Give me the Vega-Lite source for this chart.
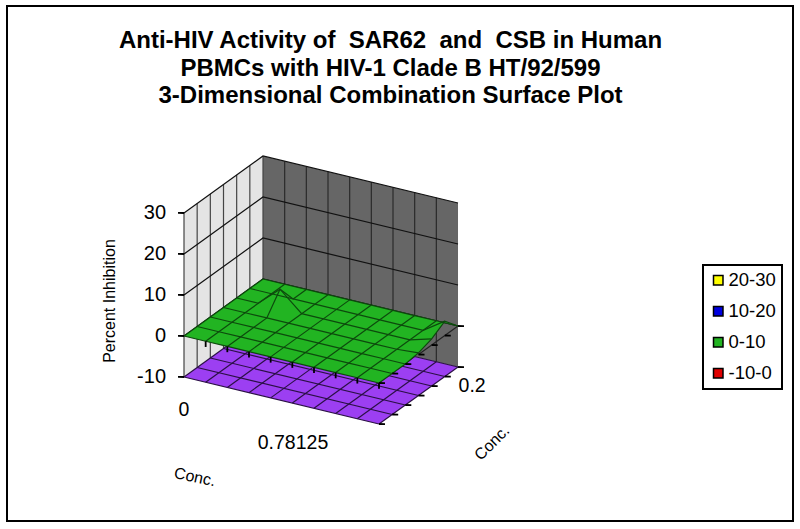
{"$schema":"https://vega.github.io/schema/vega-lite/v6.json","width":786,"height":515,"padding":{"left":7,"top":6,"right":7,"bottom":8},"autosize":"none","background":"white","view":{"stroke":"black","strokeWidth":2,"fill":"white"},"title":{"text":["Anti-HIV Activity of \u00a0SAR62 \u00a0and \u00a0CSB in Human","PBMCs with HIV-1 Clade B HT/92/599","3-Dimensional Combination Surface Plot"],"font":"Liberation Sans","fontSize":24,"fontWeight":"bold","color":"black","lineHeight":27.5,"anchor":"middle","dx":-9.5,"dy":102,"offset":0},"config":{"legend":{"strokeWidth":2}},
"data":{"values":[
{"kind":"wall","part":"left","seq":0,"i":0,"j":0,"z":-10},{"kind":"wall","part":"left","seq":1,"i":0,"j":0,"z":30},{"kind":"wall","part":"left","seq":2,"i":0,"j":6,"z":30},{"kind":"wall","part":"left","seq":3,"i":0,"j":6,"z":-10},
{"kind":"wall","part":"back","seq":0,"i":0,"j":6,"z":-10},{"kind":"wall","part":"back","seq":1,"i":0,"j":6,"z":30},{"kind":"wall","part":"back","seq":2,"i":9,"j":6,"z":30},{"kind":"wall","part":"back","seq":3,"i":9,"j":6,"z":-10},
{"kind":"wall","part":"floor","seq":0,"i":0,"j":0,"z":-10},{"kind":"wall","part":"floor","seq":1,"i":9,"j":0,"z":-10},{"kind":"wall","part":"floor","seq":2,"i":9,"j":6,"z":-10},{"kind":"wall","part":"floor","seq":3,"i":0,"j":6,"z":-10},

{"kind":"leftgrid","part":"a0","seq":0,"i":0,"j":0,"z":-10},{"kind":"leftgrid","part":"a0","seq":1,"i":0,"j":0,"z":30},
{"kind":"leftgrid","part":"a1","seq":0,"i":0,"j":1,"z":-10},{"kind":"leftgrid","part":"a1","seq":1,"i":0,"j":1,"z":30},
{"kind":"leftgrid","part":"a2","seq":0,"i":0,"j":2,"z":-10},{"kind":"leftgrid","part":"a2","seq":1,"i":0,"j":2,"z":30},
{"kind":"leftgrid","part":"a3","seq":0,"i":0,"j":3,"z":-10},{"kind":"leftgrid","part":"a3","seq":1,"i":0,"j":3,"z":30},
{"kind":"leftgrid","part":"a4","seq":0,"i":0,"j":4,"z":-10},{"kind":"leftgrid","part":"a4","seq":1,"i":0,"j":4,"z":30},
{"kind":"leftgrid","part":"a5","seq":0,"i":0,"j":5,"z":-10},{"kind":"leftgrid","part":"a5","seq":1,"i":0,"j":5,"z":30},
{"kind":"leftgrid","part":"a6","seq":0,"i":0,"j":6,"z":-10},{"kind":"leftgrid","part":"a6","seq":1,"i":0,"j":6,"z":30},

{"kind":"backgrid","part":"b1","seq":0,"i":1,"j":6,"z":-10},{"kind":"backgrid","part":"b1","seq":1,"i":1,"j":6,"z":30},
{"kind":"backgrid","part":"b2","seq":0,"i":2,"j":6,"z":-10},{"kind":"backgrid","part":"b2","seq":1,"i":2,"j":6,"z":30},
{"kind":"backgrid","part":"b3","seq":0,"i":3,"j":6,"z":-10},{"kind":"backgrid","part":"b3","seq":1,"i":3,"j":6,"z":30},
{"kind":"backgrid","part":"b4","seq":0,"i":4,"j":6,"z":-10},{"kind":"backgrid","part":"b4","seq":1,"i":4,"j":6,"z":30},
{"kind":"backgrid","part":"b5","seq":0,"i":5,"j":6,"z":-10},{"kind":"backgrid","part":"b5","seq":1,"i":5,"j":6,"z":30},
{"kind":"backgrid","part":"b6","seq":0,"i":6,"j":6,"z":-10},{"kind":"backgrid","part":"b6","seq":1,"i":6,"j":6,"z":30},
{"kind":"backgrid","part":"b7","seq":0,"i":7,"j":6,"z":-10},{"kind":"backgrid","part":"b7","seq":1,"i":7,"j":6,"z":30},
{"kind":"backgrid","part":"b8","seq":0,"i":8,"j":6,"z":-10},{"kind":"backgrid","part":"b8","seq":1,"i":8,"j":6,"z":30},

{"kind":"ink","part":"h0l","seq":0,"i":0,"j":0,"z":0},{"kind":"ink","part":"h0l","seq":1,"i":0,"j":6,"z":0},{"kind":"ink","part":"h0l","seq":2,"i":9,"j":6,"z":0},
{"kind":"ink","part":"h10","seq":0,"i":0,"j":0,"z":10},{"kind":"ink","part":"h10","seq":1,"i":0,"j":6,"z":10},{"kind":"ink","part":"h10","seq":2,"i":9,"j":6,"z":10},
{"kind":"ink","part":"h20","seq":0,"i":0,"j":0,"z":20},{"kind":"ink","part":"h20","seq":1,"i":0,"j":6,"z":20},{"kind":"ink","part":"h20","seq":2,"i":9,"j":6,"z":20},
{"kind":"ink","part":"h30","seq":0,"i":0,"j":0,"z":30},{"kind":"ink","part":"h30","seq":1,"i":0,"j":6,"z":30},{"kind":"ink","part":"h30","seq":2,"i":9,"j":6,"z":30},

{"kind":"floorgrid","part":"f0","seq":0,"i":0,"j":0,"z":-10},{"kind":"floorgrid","part":"f0","seq":1,"i":0,"j":6,"z":-10},
{"kind":"floorgrid","part":"f1","seq":0,"i":1,"j":0,"z":-10},{"kind":"floorgrid","part":"f1","seq":1,"i":1,"j":6,"z":-10},
{"kind":"floorgrid","part":"f2","seq":0,"i":2,"j":0,"z":-10},{"kind":"floorgrid","part":"f2","seq":1,"i":2,"j":6,"z":-10},
{"kind":"floorgrid","part":"f3","seq":0,"i":3,"j":0,"z":-10},{"kind":"floorgrid","part":"f3","seq":1,"i":3,"j":6,"z":-10},
{"kind":"floorgrid","part":"f4","seq":0,"i":4,"j":0,"z":-10},{"kind":"floorgrid","part":"f4","seq":1,"i":4,"j":6,"z":-10},
{"kind":"floorgrid","part":"f5","seq":0,"i":5,"j":0,"z":-10},{"kind":"floorgrid","part":"f5","seq":1,"i":5,"j":6,"z":-10},
{"kind":"floorgrid","part":"f6","seq":0,"i":6,"j":0,"z":-10},{"kind":"floorgrid","part":"f6","seq":1,"i":6,"j":6,"z":-10},
{"kind":"floorgrid","part":"f7","seq":0,"i":7,"j":0,"z":-10},{"kind":"floorgrid","part":"f7","seq":1,"i":7,"j":6,"z":-10},
{"kind":"floorgrid","part":"f8","seq":0,"i":8,"j":0,"z":-10},{"kind":"floorgrid","part":"f8","seq":1,"i":8,"j":6,"z":-10},
{"kind":"floorgrid","part":"f9","seq":0,"i":9,"j":0,"z":-10},{"kind":"floorgrid","part":"f9","seq":1,"i":9,"j":6,"z":-10},
{"kind":"floorgrid","part":"g0","seq":0,"i":0,"j":0,"z":-10},{"kind":"floorgrid","part":"g0","seq":1,"i":9,"j":0,"z":-10},
{"kind":"floorgrid","part":"g1","seq":0,"i":0,"j":1,"z":-10},{"kind":"floorgrid","part":"g1","seq":1,"i":9,"j":1,"z":-10},
{"kind":"floorgrid","part":"g2","seq":0,"i":0,"j":2,"z":-10},{"kind":"floorgrid","part":"g2","seq":1,"i":9,"j":2,"z":-10},
{"kind":"floorgrid","part":"g3","seq":0,"i":0,"j":3,"z":-10},{"kind":"floorgrid","part":"g3","seq":1,"i":9,"j":3,"z":-10},
{"kind":"floorgrid","part":"g4","seq":0,"i":0,"j":4,"z":-10},{"kind":"floorgrid","part":"g4","seq":1,"i":9,"j":4,"z":-10},
{"kind":"floorgrid","part":"g5","seq":0,"i":0,"j":5,"z":-10},{"kind":"floorgrid","part":"g5","seq":1,"i":9,"j":5,"z":-10},
{"kind":"floorgrid","part":"g6","seq":0,"i":0,"j":6,"z":-10},{"kind":"floorgrid","part":"g6","seq":1,"i":9,"j":6,"z":-10},

{"kind":"surface","band":"0-10","outline":0,"i":0,"j":0,"z":0},{"kind":"surface","band":"0-10","outline":1,"i":1,"j":0,"z":0},{"kind":"surface","band":"0-10","outline":2,"i":2,"j":0,"z":0},{"kind":"surface","band":"0-10","outline":3,"i":3,"j":0,"z":0},{"kind":"surface","band":"0-10","outline":4,"i":4,"j":0,"z":0},{"kind":"surface","band":"0-10","outline":5,"i":5,"j":0,"z":0},{"kind":"surface","band":"0-10","outline":6,"i":6,"j":0,"z":0},{"kind":"surface","band":"0-10","outline":7,"i":7,"j":0,"z":0},{"kind":"surface","band":"0-10","outline":8,"i":8,"j":0,"z":0},{"kind":"surface","band":"0-10","outline":9,"i":9,"j":0,"z":0},
{"kind":"surface","band":"0-10","outline":29,"i":0,"j":1,"z":0},{"kind":"surface","band":"0-10","i":1,"j":1,"z":0},{"kind":"surface","band":"0-10","i":2,"j":1,"z":0},{"kind":"surface","band":"0-10","i":3,"j":1,"z":0},{"kind":"surface","band":"0-10","i":4,"j":1,"z":0},{"kind":"surface","band":"0-10","i":5,"j":1,"z":0},{"kind":"surface","band":"0-10","i":6,"j":1,"z":0},{"kind":"surface","band":"0-10","i":7,"j":1,"z":0},{"kind":"surface","band":"0-10","i":8,"j":1,"z":0},{"kind":"surface","band":"0-10","outline":10,"i":9,"j":1,"z":0},
{"kind":"surface","band":"0-10","outline":28,"i":0,"j":2,"z":0},{"kind":"surface","band":"0-10","i":1,"j":2,"z":0},{"kind":"surface","band":"0-10","i":2,"j":2,"z":0},{"kind":"surface","band":"0-10","i":3,"j":2,"z":0},{"kind":"surface","band":"0-10","i":4,"j":2,"z":0},{"kind":"surface","band":"0-10","i":5,"j":2,"z":0},{"kind":"surface","band":"0-10","i":6,"j":2,"z":0},{"kind":"surface","band":"0-10","i":7,"j":2,"z":0},{"kind":"surface","band":"0-10","i":8,"j":2,"z":0},{"kind":"surface","band":"0-10","outline":11,"i":9,"j":2,"z":0},
{"kind":"surface","band":"0-10","outline":27,"i":0,"j":3,"z":0},{"kind":"surface","band":"0-10","i":1,"j":3,"z":0},{"kind":"surface","band":"0-10","i":2,"j":3,"z":0},{"kind":"surface","band":"0-10","i":3,"j":3,"z":0},{"kind":"surface","band":"0-10","i":4,"j":3,"z":0},{"kind":"surface","band":"0-10","i":5,"j":3,"z":0},{"kind":"surface","band":"0-10","i":6,"j":3,"z":0},{"kind":"surface","band":"0-10","i":7,"j":3,"z":0},{"kind":"surface","band":"0-10","i":8,"j":3,"z":0},{"kind":"surface","band":"0-10","outline":12,"i":9,"j":3,"z":0.4},
{"kind":"surface","band":"0-10","outline":26,"i":0,"j":4,"z":0},{"kind":"surface","band":"0-10","i":1,"j":4,"z":0},{"kind":"surface","band":"0-10","i":2,"j":4,"z":4.7},{"kind":"surface","band":"0-10","i":3,"j":4,"z":0},{"kind":"surface","band":"0-10","i":4,"j":4,"z":0},{"kind":"surface","band":"0-10","i":5,"j":4,"z":0},{"kind":"surface","band":"0-10","i":6,"j":4,"z":0},{"kind":"surface","band":"0-10","i":7,"j":4,"z":0},{"kind":"surface","band":"0-10","i":8,"j":4,"z":0},{"kind":"surface","band":"0-10","outline":13,"i":9,"j":4,"z":1.5},
{"kind":"surface","band":"0-10","outline":25,"i":0,"j":5,"z":0},{"kind":"surface","band":"0-10","i":1,"j":5,"z":0},{"kind":"surface","band":"0-10","i":2,"j":5,"z":0},{"kind":"surface","band":"0-10","i":3,"j":5,"z":0},{"kind":"surface","band":"0-10","i":4,"j":5,"z":0},{"kind":"surface","band":"0-10","i":5,"j":5,"z":0},{"kind":"surface","band":"0-10","i":6,"j":5,"z":0},{"kind":"surface","band":"0-10","i":7,"j":5,"z":0},{"kind":"surface","band":"0-10","i":8,"j":5,"z":0},{"kind":"surface","band":"0-10","outline":14,"i":9,"j":5,"z":3.5},
{"kind":"surface","band":"0-10","outline":24,"i":0,"j":6,"z":0},{"kind":"surface","band":"0-10","outline":23,"i":1,"j":6,"z":0},{"kind":"surface","band":"0-10","outline":22,"i":2,"j":6,"z":0},{"kind":"surface","band":"0-10","outline":21,"i":3,"j":6,"z":0},{"kind":"surface","band":"0-10","outline":20,"i":4,"j":6,"z":0},{"kind":"surface","band":"0-10","outline":19,"i":5,"j":6,"z":0},{"kind":"surface","band":"0-10","outline":18,"i":6,"j":6,"z":0},{"kind":"surface","band":"0-10","outline":17,"i":7,"j":6,"z":0},{"kind":"surface","band":"0-10","outline":16,"i":8,"j":6,"z":0},{"kind":"surface","band":"0-10","outline":15,"i":9,"j":6,"z":0},

{"kind":"tick","part":"e","seq":0,"i":9,"j":3,"z":0},{"kind":"tick","part":"e","seq":1,"i":9,"j":6,"z":0},
{"kind":"tick","part":"l1","seq":0,"i":0,"j":0,"z":-10},{"kind":"tick","part":"l1","seq":1,"i":-0.21,"j":-0.11,"z":-10},
{"kind":"tick","part":"l2","seq":0,"i":0,"j":0,"z":0},{"kind":"tick","part":"l2","seq":1,"i":-0.21,"j":-0.11,"z":0},
{"kind":"tick","part":"l3","seq":0,"i":0,"j":0,"z":10},{"kind":"tick","part":"l3","seq":1,"i":-0.21,"j":-0.11,"z":10},
{"kind":"tick","part":"l4","seq":0,"i":0,"j":0,"z":20},{"kind":"tick","part":"l4","seq":1,"i":-0.21,"j":-0.11,"z":20},
{"kind":"tick","part":"l5","seq":0,"i":0,"j":0,"z":30},{"kind":"tick","part":"l5","seq":1,"i":-0.21,"j":-0.11,"z":30},
{"kind":"tick","part":"c1","seq":0,"i":1,"j":0,"z":0},{"kind":"tick","part":"c1","seq":1,"i":1,"j":0,"z":-1.4},
{"kind":"tick","part":"c2","seq":0,"i":2,"j":0,"z":0},{"kind":"tick","part":"c2","seq":1,"i":2,"j":0,"z":-1.4},
{"kind":"tick","part":"c3","seq":0,"i":3,"j":0,"z":0},{"kind":"tick","part":"c3","seq":1,"i":3,"j":0,"z":-1.4},
{"kind":"tick","part":"c4","seq":0,"i":4,"j":0,"z":0},{"kind":"tick","part":"c4","seq":1,"i":4,"j":0,"z":-1.4},
{"kind":"tick","part":"c5","seq":0,"i":5,"j":0,"z":0},{"kind":"tick","part":"c5","seq":1,"i":5,"j":0,"z":-1.4},
{"kind":"tick","part":"c6","seq":0,"i":6,"j":0,"z":0},{"kind":"tick","part":"c6","seq":1,"i":6,"j":0,"z":-1.4},
{"kind":"tick","part":"c7","seq":0,"i":7,"j":0,"z":0},{"kind":"tick","part":"c7","seq":1,"i":7,"j":0,"z":-1.4},
{"kind":"tick","part":"c8","seq":0,"i":8,"j":0,"z":0},{"kind":"tick","part":"c8","seq":1,"i":8,"j":0,"z":-1.4},
{"kind":"tick","part":"c9","seq":0,"i":9,"j":0,"z":0},{"kind":"tick","part":"c9","seq":1,"i":9,"j":0,"z":-1.4},
{"kind":"tick","part":"r0","seq":0,"i":9,"j":0,"z":0},{"kind":"tick","part":"r0","seq":1,"i":9.21,"j":0.11,"z":0},
{"kind":"tick","part":"r1","seq":0,"i":9,"j":1,"z":0},{"kind":"tick","part":"r1","seq":1,"i":9.21,"j":1.11,"z":0},
{"kind":"tick","part":"r2","seq":0,"i":9,"j":2,"z":0},{"kind":"tick","part":"r2","seq":1,"i":9.21,"j":2.11,"z":0},
{"kind":"tick","part":"r3","seq":0,"i":9,"j":3,"z":0},{"kind":"tick","part":"r3","seq":1,"i":9.21,"j":3.11,"z":0},
{"kind":"tick","part":"r4","seq":0,"i":9,"j":4,"z":0},{"kind":"tick","part":"r4","seq":1,"i":9.21,"j":4.11,"z":0},
{"kind":"tick","part":"r5","seq":0,"i":9,"j":5,"z":0},{"kind":"tick","part":"r5","seq":1,"i":9.21,"j":5.11,"z":0},
{"kind":"tick","part":"r6","seq":0,"i":9,"j":6,"z":0},{"kind":"tick","part":"r6","seq":1,"i":9.21,"j":6.11,"z":0},
{"kind":"tick","part":"s0","seq":0,"i":9,"j":0,"z":-10},{"kind":"tick","part":"s0","seq":1,"i":9.21,"j":0.11,"z":-10},
{"kind":"tick","part":"s1","seq":0,"i":9,"j":1,"z":-10},{"kind":"tick","part":"s1","seq":1,"i":9.21,"j":1.11,"z":-10},
{"kind":"tick","part":"s2","seq":0,"i":9,"j":2,"z":-10},{"kind":"tick","part":"s2","seq":1,"i":9.21,"j":2.11,"z":-10},
{"kind":"tick","part":"s3","seq":0,"i":9,"j":3,"z":-10},{"kind":"tick","part":"s3","seq":1,"i":9.21,"j":3.11,"z":-10},
{"kind":"tick","part":"s4","seq":0,"i":9,"j":4,"z":-10},{"kind":"tick","part":"s4","seq":1,"i":9.21,"j":4.11,"z":-10},
{"kind":"tick","part":"s5","seq":0,"i":9,"j":5,"z":-10},{"kind":"tick","part":"s5","seq":1,"i":9.21,"j":5.11,"z":-10},
{"kind":"tick","part":"s6","seq":0,"i":9,"j":6,"z":-10},{"kind":"tick","part":"s6","seq":1,"i":9.21,"j":6.11,"z":-10},

{"kind":"zlabel","label":"30","i":-0.622,"j":-0.342,"z":30},{"kind":"zlabel","label":"20","i":-0.622,"j":-0.342,"z":20},{"kind":"zlabel","label":"10","i":-0.622,"j":-0.342,"z":10},{"kind":"zlabel","label":"0","i":-0.622,"j":-0.342,"z":0},{"kind":"zlabel","label":"-10","i":-0.622,"j":-0.342,"z":-10},
{"kind":"catlabel","label":"0","i":0,"j":0,"z":-18},{"kind":"catlabel","label":"0.78125","i":5.03,"j":0,"z":-19.7},{"kind":"catlabel","label":"0.2","i":9.65,"j":6,"z":-13.8},
{"kind":"ztitle","label":"Percent Inhibition","i":-3.4,"j":0,"z":4.2},
{"kind":"xtitle","label":"Conc.","i":0.5,"j":0,"z":-33.8},
{"kind":"ytitle","label":"Conc.","i":10.57,"j":6,"z":-26.5}
]},
"transform":[{"calculate":"21.667*datum.i+13.167*datum.j","as":"sx"},{"calculate":"4.1*datum.z+9.5*datum.j-5.222*datum.i","as":"sy"}],
"encoding":{"x":{"field":"sx","type":"quantitative","axis":null,"scale":{"domain":[-177,609],"nice":false,"zero":false}},"y":{"field":"sy","type":"quantitative","axis":null,"scale":{"domain":[-185,330],"nice":false,"zero":false}}},
"layer":[
{"transform":[{"filter":"datum.part==='left'"}],"mark":{"type":"line","fill":"#e4e4e4","stroke":null},"encoding":{"order":{"field":"seq"}}},
{"transform":[{"filter":"datum.part==='back'"}],"mark":{"type":"line","fill":"#666666","stroke":null},"encoding":{"order":{"field":"seq"}}},
{"transform":[{"filter":"datum.part==='floor'"}],"mark":{"type":"line","fill":"#9c3ff2","stroke":null},"encoding":{"order":{"field":"seq"}}},
{"transform":[{"filter":"datum.kind==='leftgrid'"}],"mark":{"type":"line","stroke":"#444444","strokeWidth":1.2},"encoding":{"detail":{"field":"part"},"order":{"field":"seq"}}},
{"transform":[{"filter":"datum.kind==='backgrid'"}],"mark":{"type":"line","stroke":"#2a2a2a","strokeWidth":1.2},"encoding":{"detail":{"field":"part"},"order":{"field":"seq"}}},
{"transform":[{"filter":"datum.kind==='ink'"}],"mark":{"type":"line","stroke":"#111111","strokeWidth":1.2},"encoding":{"detail":{"field":"part"},"order":{"field":"seq"}}},
{"transform":[{"filter":"datum.kind==='floorgrid'"}],"mark":{"type":"line","stroke":"#2b1045","strokeWidth":1.2},"encoding":{"detail":{"field":"part"},"order":{"field":"seq"}}},
{"transform":[{"filter":"datum.kind==='tick'&&datum.part==='e'"}],"mark":{"type":"line","stroke":"#222222","strokeWidth":1.2},"encoding":{"order":{"field":"seq"}}},
{"transform":[{"filter":"datum.kind==='surface'&&isValid(datum.outline)"}],"mark":{"type":"line","stroke":null},"encoding":{"order":{"field":"outline"},"fill":{"field":"band","type":"nominal","scale":{"domain":["20-30","10-20","0-10","-10-0"],"range":["#ffff00","#0000e0","#22b422","#e00000"]},"legend":{"title":null,"orient":"none","legendX":696,"legendY":259,"symbolType":"square","symbolSize":90,"symbolStrokeColor":"black","symbolStrokeWidth":1.5,"labelFont":"Liberation Sans","labelFontSize":18.5,"labelColor":"black","strokeColor":"black","fillColor":"white","padding":6,"rowPadding":12,"labelOffset":1}}}},
{"transform":[{"filter":"datum.kind==='surface'"}],"mark":{"type":"line","stroke":"#0d4a0d","strokeWidth":1.2},"encoding":{"detail":{"field":"j"},"order":{"field":"i"}}},
{"transform":[{"filter":"datum.kind==='surface'"}],"mark":{"type":"line","stroke":"#0d4a0d","strokeWidth":1.2},"encoding":{"detail":{"field":"i"},"order":{"field":"j"}}},
{"transform":[{"filter":"datum.kind==='tick'&&datum.part!=='e'"}],"mark":{"type":"line","stroke":"black","strokeWidth":1.8},"encoding":{"detail":{"field":"part"},"order":{"field":"seq"}}},
{"transform":[{"filter":"datum.kind==='zlabel'"}],"mark":{"type":"text","font":"Liberation Sans","fontSize":20,"align":"right","baseline":"middle","color":"black"},"encoding":{"text":{"field":"label"}}},
{"transform":[{"filter":"datum.kind==='catlabel'"}],"mark":{"type":"text","font":"Liberation Sans","fontSize":19.5,"align":"center","baseline":"middle","color":"black"},"encoding":{"text":{"field":"label"}}},
{"transform":[{"filter":"datum.kind==='ztitle'"}],"mark":{"type":"text","font":"Liberation Sans","fontSize":16,"angle":270,"align":"center","baseline":"middle","color":"black"},"encoding":{"text":{"field":"label"}}},
{"transform":[{"filter":"datum.kind==='xtitle'"}],"mark":{"type":"text","font":"Liberation Sans","fontSize":16,"angle":12,"align":"center","baseline":"middle","color":"black"},"encoding":{"text":{"field":"label"}}},
{"transform":[{"filter":"datum.kind==='ytitle'"}],"mark":{"type":"text","font":"Liberation Sans","fontSize":16,"angle":315,"align":"center","baseline":"middle","color":"black"},"encoding":{"text":{"field":"label"}}}
]}
